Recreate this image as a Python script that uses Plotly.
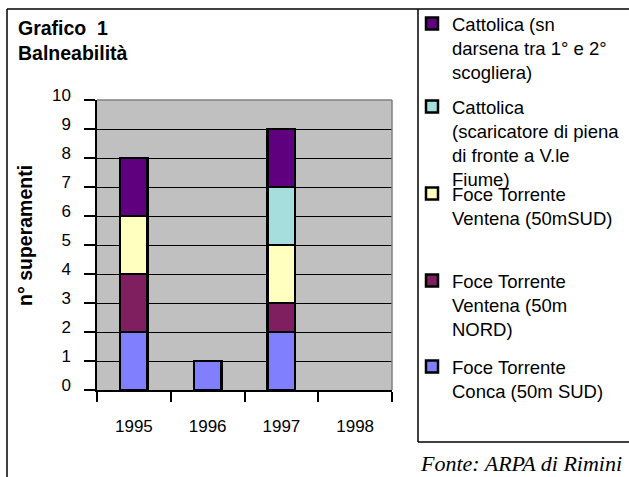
import plotly.graph_objects as go

# ---- data ----
years = ["1995", "1996", "1997", "1998"]
conca_sud = [2, 1, 2, 0]
ventena_nord = [2, 0, 1, 0]
ventena_sud = [2, 0, 2, 0]
cattolica_scaricatore = [0, 0, 2, 0]
cattolica_sn = [2, 0, 2, 0]
y_ticks = list(range(0, 11))

names = [
    "Foce Torrente<br>Conca (50m SUD)",
    "Foce Torrente<br>Ventena (50m<br>NORD)",
    "Foce Torrente<br>Ventena (50mSUD)",
    "Cattolica<br>(scaricatore di piena<br>di fronte a V.le<br>Fiume)",
    "Cattolica (sn<br>darsena tra 1° e 2°<br>scogliera)",
]
values = [conca_sud, ventena_nord, ventena_sud, cattolica_scaricatore, cattolica_sn]
colors = ["#8080FF", "#7F1F5F", "#FFFFC0", "#A6DDDD", "#5F007F"]
legend_ids = ["legend5", "legend4", "legend3", "legend2", "legend"]
legend_line_y = [368, 282, 195, 108, 25]  # pixel y of first text line

W, H = 629, 477
L, R, T, B = 97, 392, 100, 390
SANS = "Liberation Sans, Arial, sans-serif"

def px(x):
    return (x - L) / (R - L)

def py(y):
    return (B - y) / (B - T)

fig = go.Figure()
for n, v, c, lg in zip(names, values, colors, legend_ids):
    fig.add_trace(go.Bar(
        x=years, y=[val if val else None for val in v], name=n,
        marker=dict(color=c, line=dict(color="black", width=2.5)),
        width=0.37, legend=lg,
    ))

legend_common = dict(
    xref="container", yref="container", xanchor="left", yanchor="top",
    bgcolor="rgba(0,0,0,0)", borderwidth=0, valign="top",
    font=dict(family=SANS, size=18.5, color="black"),
    itemclick=False, itemdoubleclick=False,
)
legends = {}
for lg, ly in zip(legend_ids, legend_line_y):
    d = dict(legend_common)
    d["x"] = 412 / W
    d["y"] = 1 - (ly - 20) / H
    legends[lg] = d

shapes = []
def line(x0, y0, x1, y1, color="black", width=1.5):
    shapes.append(dict(type="line", xref="paper", yref="paper",
                       x0=px(x0), y0=py(y0), x1=px(x1), y1=py(y1),
                       line=dict(color=color, width=width), layer="above"))

# outer frame
line(7, 9, 629, 9)
line(7, 9, 7, 477)
# legend box
line(418, 9, 418, 442)
line(418, 442, 629, 442)
# plot-area border top/right (grey)
line(L, T, R, T, color="#808080", width=1.5)
line(R, T, R, B, color="#808080", width=1.5)

annotations = [
    dict(text="<b>Grafico\u00a0 1<br>Balneabilità</b>", xref="paper", yref="paper",
         x=px(16), y=py(15), xanchor="left", yanchor="top", align="left",
         showarrow=False, font=dict(family=SANS, size=19.5, color="black")),
    dict(text="<b>n° superamenti</b>", xref="paper", yref="paper",
         x=px(25), y=py(236), xanchor="center", yanchor="middle", textangle=-90,
         showarrow=False, font=dict(family=SANS, size=19.5, color="black")),
    dict(text="<i>Fonte: ARPA di Rimini</i>", xref="paper", yref="paper",
         x=px(624), y=py(463), xanchor="right", yanchor="middle",
         showarrow=False, font=dict(family="Liberation Serif, Times New Roman, serif",
                                    size=22, color="black")),
]

fig.update_layout(
    width=W, height=H,
    margin=dict(l=L, r=W - R, t=T, b=H - B, autoexpand=False),
    paper_bgcolor="white", plot_bgcolor="#C0C0C0",
    barmode="stack", bargap=0.63,
    showlegend=True,
    shapes=shapes, annotations=annotations,
    **legends,
)
fig.update_xaxes(
    type="category", range=[-0.5, 3.5], tickson="boundaries",
    ticks="outside", ticklen=10, tickwidth=1.5, tickcolor="black",
    showline=True, linecolor="black", linewidth=1.5, showgrid=False,
    tickfont=dict(family=SANS, size=17, color="black"), ticklabelstandoff=20,
)
fig.update_yaxes(
    range=[0, 10], tickvals=y_ticks, ticktext=[str(t) for t in y_ticks],
    ticks="outside", ticklen=11, tickwidth=1.5, tickcolor="black",
    showline=True, linecolor="black", linewidth=1.5,
    showgrid=True, gridcolor="black", gridwidth=1, zeroline=False,
    tickfont=dict(family=SANS, size=17, color="black"),
    ticklabelshift=-5, ticklabelstandoff=10,
)

fig.write_html("out.html", config={"displayModeBar": False},
               post_script="document.body.style.margin='0';")
